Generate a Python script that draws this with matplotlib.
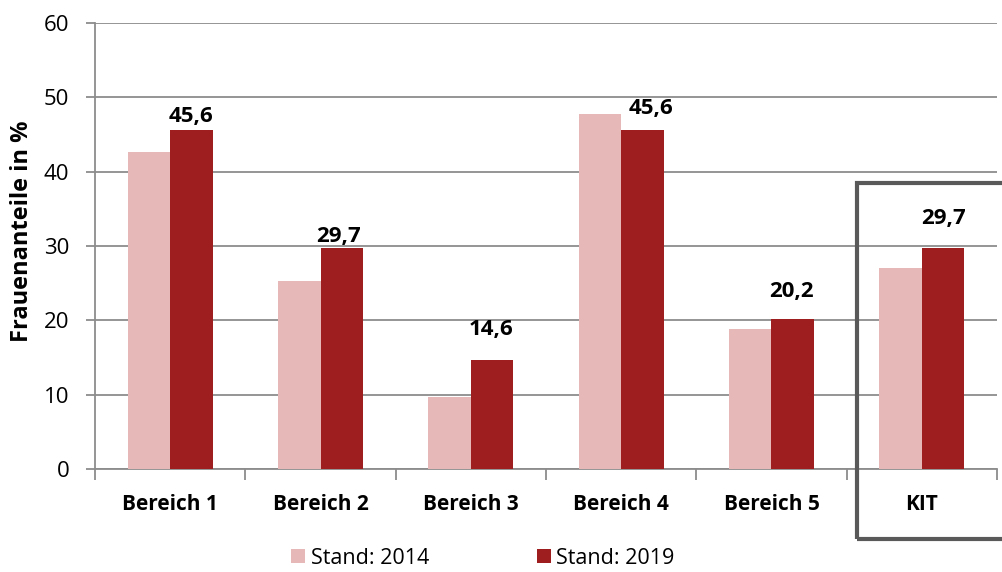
import matplotlib
matplotlib.use("Agg")
import matplotlib.pyplot as plt
from matplotlib.patches import Rectangle, Patch
import numpy as np

categories = ["Bereich 1", "Bereich 2", "Bereich 3", "Bereich 4", "Bereich 5", "KIT"]
values_2014 = [42.6, 25.3, 9.7, 47.8, 18.8, 27.0]
values_2019 = [45.6, 29.7, 14.6, 45.6, 20.2, 29.7]
labels_2019 = ["45,6", "29,7", "14,6", "45,6", "20,2", "29,7"]
series_names = ["Stand: 2014", "Stand: 2019"]
yticks = [0, 10, 20, 30, 40, 50, 60]

# label placement (style): vertical gap above bar (data units), horizontal shift (category units)
label_dy = [1.1, 0.9, 3.4, 2.2, 3.0, 3.3]
label_dx = [0.0, -0.02, -0.01, 0.06, -0.01, 0.0]

plt.rcParams['font.family'] = ['Open Sans', 'DejaVu Sans']

c2014 = "#E6B8B7"
c2019 = "#9E1E20"
grid_c = "#8C8C8C"

fig = plt.figure(figsize=(10.02, 5.72), dpi=100)
ax = fig.add_axes([95/1002, 1-469/572, 902/1002, 446/572])

x = np.arange(len(categories))
w = 0.283
ax.bar(x - w/2, values_2014, width=w, color=c2014, zorder=3, label=series_names[0])
ax.bar(x + w/2, values_2019, width=w, color=c2019, zorder=3, label=series_names[1])

for xi, v, lab, dy, dx in zip(x, values_2019, labels_2019, label_dy, label_dx):
    ax.text(xi + w/2 + dx, v + dy, lab, ha="center", va="baseline", fontsize=16,
            fontweight="bold", color="black", zorder=4)

ax.set_xlim(-0.5, len(categories) - 0.5)
ax.set_ylim(0, 60)
ax.set_yticks(yticks)
ax.set_yticklabels([str(t) for t in yticks], fontsize=16)
ax.yaxis.grid(True, color=grid_c, linewidth=1.3, zorder=0)
ax.set_axisbelow(True)

ax.set_xticks(x)
ax.set_xticklabels(categories, fontsize=15, fontweight="bold")
ax.tick_params(axis="x", length=0, pad=18)
ax.tick_params(axis="y", length=6.5, width=1.3, color=grid_c, pad=12)
# category separator ticks
ax.set_xticks(np.arange(-0.5, len(categories)), minor=True)
ax.tick_params(axis="x", which="minor", length=8, width=1.3, color=grid_c)

for s in ["top", "right"]:
    ax.spines[s].set_visible(False)
ax.spines["left"].set_color(grid_c)
ax.spines["left"].set_linewidth(1.3)
ax.spines["bottom"].set_color(grid_c)
ax.spines["bottom"].set_linewidth(1.3)

ax.set_ylabel("Frauenanteile in %", fontsize=17, fontweight="bold")
ax.yaxis.set_label_coords(-61/902, (469-231)/446)

# KIT highlight box
rect = Rectangle((4.57, -9.4), 0.99, 47.9, fill=False, edgecolor="#595959",
                 linewidth=3.0, clip_on=False, zorder=5)
ax.add_patch(rect)

handles = [Patch(facecolor=c2014, edgecolor="none"), Patch(facecolor=c2019, edgecolor="none")]
fig.legend(handles, series_names, loc="center", bbox_to_anchor=(483/1002, 1-558/572),
           ncol=2, frameon=False, fontsize=15.5, handlelength=0.65, handleheight=0.65,
           handletextpad=0.25, columnspacing=5.0)

fig.savefig("out.png", dpi=100)
